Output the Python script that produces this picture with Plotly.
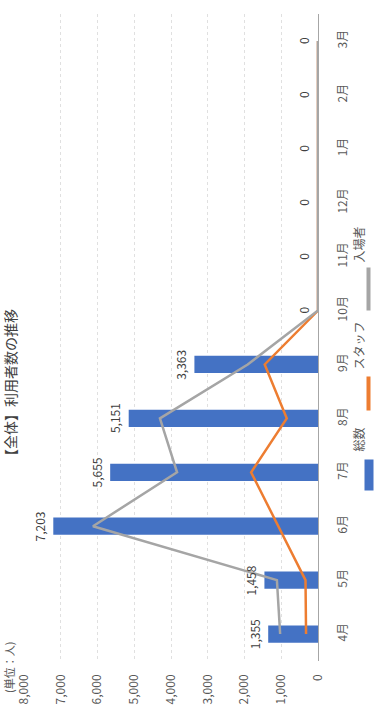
import plotly.graph_objects as go

months = ["4月", "5月", "6月", "7月", "8月", "9月", "10月", "11月", "12月", "1月", "2月", "3月"]
total = [1355, 1458, 7203, 5655, 5151, 3363, 0, 0, 0, 0, 0, 0]
staff = [325, 340, 1080, 1820, 850, 1450, 0, 0, 0, 0, 0, 0]
visitors = [1030, 1118, 6123, 3835, 4301, 1913, 0, 0, 0, 0, 0, 0]
series_names = ["総数", "スタッフ", "入場者"]
title_text = "【全体】利用者数の推移"
unit_text = "(単位：人)"
value_ticks = [0, 1000, 2000, 3000, 4000, 5000, 6000, 7000, 8000]

BLUE = "#4472C4"
ORANGE = "#ED7D31"
GRAY = "#A5A5A5"
FONT = "Noto Sans CJK JP"
TXT = "#595959"

W, H = 382, 721
ML, MR, MT, MB = 24, 64, 14, 60
PW, PH = W - ML - MR, H - MT - MB

fig = go.Figure()
fig.add_trace(go.Bar(
    x=total, y=months, orientation="h", name=series_names[0],
    marker=dict(color=BLUE, line=dict(width=0)), width=0.32,
))
fig.add_trace(go.Scatter(
    x=staff, y=months, mode="lines", name=series_names[1],
    line=dict(color=ORANGE, width=2.5),
))
fig.add_trace(go.Scatter(
    x=visitors, y=months, mode="lines", name=series_names[2],
    line=dict(color=GRAY, width=2.5),
))

# data labels (rotated), placed from the data values
for m, v in zip(months, total):
    fig.add_annotation(x=v, y=m, xref="x", yref="y", text=f"{v:,}",
                       showarrow=False, textangle=-90, xshift=-14,
                       xanchor="center", yanchor="middle",
                       font=dict(family=FONT, size=12, color="#404040"))

fig.update_layout(
    width=W, height=H,
    margin=dict(l=ML, r=MR, t=MT, b=MB, autoexpand=False),
    paper_bgcolor="white", plot_bgcolor="white",
    showlegend=False,
    font=dict(family=FONT, size=12, color=TXT),
)
fig.update_xaxes(
    range=[8000, 0], tickvals=value_ticks, tickformat=",",
    tickangle=-90, showgrid=True, gridcolor="#E0E0E0", griddash="dot",
    zeroline=False, showline=False, ticklabelstandoff=10, automargin=False,
    tickfont=dict(family=FONT, size=12, color=TXT),
)
fig.update_yaxes(
    type="category", categoryorder="array", categoryarray=months,
    range=[-0.5, 11.5], side="right", tickangle=-90,
    showgrid=False, zeroline=False, showline=True, linecolor="#A6A6A6", linewidth=1,
    ticklabelstandoff=14, automargin=False,
    tickfont=dict(family=FONT, size=12, color=TXT),
)

def px(xp):
    return (xp - ML) / PW

def py(yp):
    return (H - MB - yp) / PH

# title and unit (rotated like the reference)
fig.add_annotation(text=title_text, xref="paper", yref="paper",
                   x=px(10), y=py(386), showarrow=False,
                   textangle=-90, font=dict(family=FONT, size=14, color="#404040"),
                   xanchor="center", yanchor="middle")
fig.add_annotation(text=unit_text, xref="paper", yref="paper",
                   x=px(9), y=py(668), showarrow=False,
                   textangle=-90, font=dict(family=FONT, size=11, color=TXT),
                   xanchor="center", yanchor="middle")

# legend drawn rotated: colour keys as filled boxes
def key(xc, yc, w, h, color):
    fig.add_annotation(text=" ", xref="paper", yref="paper", x=px(xc), y=py(yc),
                       showarrow=False, xanchor="center", yanchor="middle",
                       width=w, height=h, bgcolor=color, borderpad=0,
                       font=dict(size=1))

key(368.5, 475, 8, 30, BLUE)
fig.add_annotation(text=series_names[0], xref="paper", yref="paper",
                   x=px(368), y=py(440), showarrow=False, textangle=-90,
                   font=dict(family=FONT, size=12, color=TXT))
key(368.5, 393, 3, 33, ORANGE)
fig.add_annotation(text=series_names[1], xref="paper", yref="paper",
                   x=px(368), y=py(346), showarrow=False, textangle=-90,
                   font=dict(family=FONT, size=12, color=TXT))
key(368.5, 289, 3, 42, GRAY)
fig.add_annotation(text=series_names[2], xref="paper", yref="paper",
                   x=px(368), y=py(245), showarrow=False, textangle=-90,
                   font=dict(family=FONT, size=12, color=TXT))

fig.write_html("out.html", config={"displayModeBar": False},
               post_script="document.body.style.margin='0';document.body.style.overflow='hidden';")
